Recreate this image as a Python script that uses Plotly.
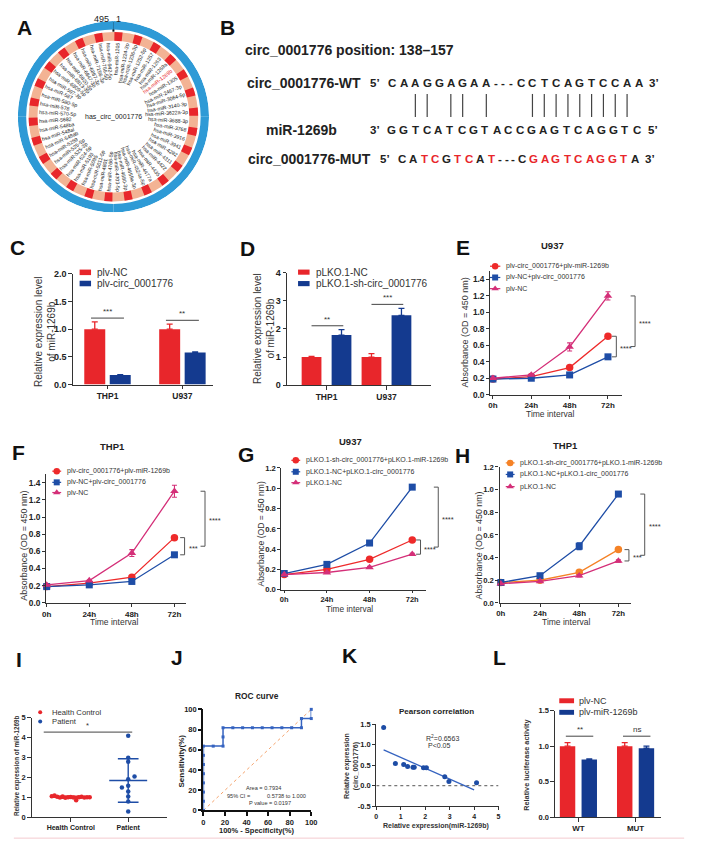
import numpy as np
import plotly.graph_objects as go

W, H = 701, 855
FONT = "Liberation Sans, Arial, Helvetica, sans-serif"
RED = "#E8262B"
NAVY = "#143A8F"
L_RED = "#EE2A2A"
L_BLUE = "#1E4DA6"
L_PINK = "#D42F78"
L_ORANGE = "#F58226"
PEACH = "#F3B394"
RING_BLUE = "#2E9AD6"
AXC = "#333333"

# ===================== DATA =====================
# Panel A
mirna_labels = [
    "hsa-miR-1205", "hsa-miR-1224-3p", "hsa-miR-1236-3p", "hsa-miR-1252-5p", "hsa-miR-1257",
    "hsa-miR-1263", "hsa-miR-1269a", "hsa-miR-1269b", "hsa-miR-1305", "hsa-miR-2467-3p",
    "hsa-miR-3064-5p", "hsa-miR-3140-3p", "hsa-miR-3622a-3p", "hsa-miR-3688-3p", "hsa-miR-3768",
    "hsa-miR-3916", "hsa-miR-3941", "hsa-miR-4282", "hsa-miR-4311", "hsa-miR-4422",
    "hsa-miR-4435", "hsa-miR-4477a", "hsa-miR-4524a-5p", "hsa-miR-4659a-3p", "hsa-miR-4680-3p",
    "hsa-miR-4703-5p", "hsa-miR-4766-5p", "hsa-miR-4801", "hsa-miR-5011-5p", "hsa-miR-5095",
    "hsa-miR-5193", "hsa-miR-524-5p", "hsa-miR-525-3p", "hsa-miR-525-5p", "hsa-miR-5259",
    "hsa-miR-548ab", "hsa-miR-548al", "hsa-miR-548ba", "hsa-miR-5682", "hsa-miR-570-5p",
    "hsa-miR-578", "hsa-miR-580-5p", "hsa-miR-587", "hsa-miR-597-3p", "hsa-miR-6809-5p",
    "hsa-miR-6813-3p", "hsa-miR-6820-3p", "hsa-miR-6847-3p", "hsa-miR-6867-3p", "hsa-miR-7156-3p",
    "hsa-miR-766-5p", "hsa-miR-942-5p",
]
highlight_mirna = "hsa-miR-1269b"
circ_name = "has_circ_0001776"
circ_ends = ["495", "1"]

# Panel B
b_title = "circ_0001776 position: 138–157"
wt_name, mir_name, mut_name = "circ_0001776-WT", "miR-1269b", "circ_0001776-MUT"
wt_seq = "CAAGGAGAA---CCTCAGTCCAA"
mir_seq = "GGTCATCGTACCGAGTCAGGTC"
mut_seq = "CATCGTCAT---CGAGTCAGGTA"
pair_idx = [2, 3, 5, 6, 8, 13, 14, 15, 16, 17, 18, 19, 20, 21]

# Panel C
cells = ["THP1", "U937"]
c_names = ["plv-NC", "plv-circ_0001776"]
c_nc = [1.00, 1.00]
c_nc_err = [0.13, 0.09]
c_oe = [0.17, 0.58]
c_oe_err = [0.01, 0.01]
c_sig = ["***", "**"]

# Panel D
d_names = ["pLKO.1-NC", "pLKO.1-sh-circ_0001776"]
d_nc = [1.00, 1.00]
d_nc_err = [0.02, 0.12]
d_sh = [1.78, 2.48]
d_sh_err = [0.19, 0.25]
d_sig = ["**", "***"]

times = ["0h", "24h", "48h", "72h"]

# Panel E (U937)
e_names = ["plv-circ_0001776+plv-miR-1269b", "plv-NC+plv-circ_0001776", "plv-NC"]
e_s1 = [0.19, 0.22, 0.33, 0.71]
e_s2 = [0.19, 0.20, 0.24, 0.46]
e_s3 = [0.20, 0.24, 0.58, 1.20]
e_s3_err = [0.00, 0.01, 0.05, 0.05]
e_sig = ["****", "****"]

# Panel F (THP1)
f_names = ["plv-circ_0001776+plv-miR-1269b", "plv-NC+plv-circ_0001776", "plv-NC"]
f_s1 = [0.19, 0.23, 0.30, 0.76]
f_s2 = [0.19, 0.21, 0.25, 0.56]
f_s3 = [0.21, 0.26, 0.58, 1.30]
f_s3_err = [0.00, 0.01, 0.04, 0.07]
f_sig = ["***", "****"]

# Panel G (U937)
g_names = ["pLKO.1-sh-circ_0001776+pLKO.1-miR-1269b", "pLKO.1-NC+pLKO.1-circ_0001776", "pLKO.1-NC"]
g_s1 = [0.15, 0.20, 0.30, 0.49]
g_s2 = [0.16, 0.25, 0.46, 1.01]
g_s3 = [0.15, 0.17, 0.22, 0.35]
g_s2_err = [0.00, 0.01, 0.01, 0.01]
g_sig = ["****", "****"]

# Panel H (THP1)
h_names = ["pLKO.1-sh-circ_0001776+pLKO.1-miR-1269b", "pLKO.1-NC+pLKO.1-circ_0001776", "pLKO.1-NC"]
h_s1 = [0.18, 0.20, 0.27, 0.47]
h_s2 = [0.18, 0.24, 0.50, 0.96]
h_s3 = [0.17, 0.19, 0.24, 0.37]
h_s2_err = [0.00, 0.01, 0.03, 0.02]
h_sig = ["***", "****"]

# Panel I
i_groups = ["Health Control", "Patient"]
hc_vals = [1.05, 1.08, 1.02, 0.99, 1.03, 0.97, 1.00, 1.01, 0.98, 0.84, 1.00, 1.02, 0.98, 1.00, 1.00]
pt_vals = [4.09, 2.98, 2.78, 1.90, 2.04, 1.57, 1.49, 1.29, 1.04, 0.78, 0.28]
i_sig = "*"

# Panel J (ROC)
roc_fpr = [0, 0, 0, 0, 0, 0, 0, 0, 9.09, 18.18, 18.18, 18.18, 27.27, 36.36, 45.45, 54.55,
           63.64, 72.73, 81.82, 90.91, 90.91, 100, 100]
roc_tpr = [0, 9.09, 18.18, 27.27, 36.36, 45.45, 54.55, 63.64, 63.64, 63.64, 72.73, 81.82, 81.82,
           81.82, 81.82, 81.82, 81.82, 81.82, 81.82, 81.82, 90.91, 90.91, 100]
roc_area = "0.7934"
roc_ci = "0.5738 to 1.000"
roc_p = "0.0197"

# Panel K
k_x = [0.30, 0.78, 1.12, 1.28, 1.50, 1.55, 1.93, 2.05, 2.80, 2.97, 4.10]
k_y = [1.42, 0.54, 0.52, 0.47, 0.45, 0.45, 0.44, 0.44, 0.22, 0.10, 0.07]
k_r2 = "0.6563"

# Panel L
l_cats = ["WT", "MUT"]
l_names = ["plv-NC", "plv-miR-1269b"]
l_nc = [1.00, 1.00]
l_nc_err = [0.05, 0.05]
l_mir = [0.81, 0.97]
l_mir_err = [0.01, 0.03]
l_sig = ["**", "ns"]

# ===================== HELPERS =====================
fig = go.Figure()
shapes, annots = [], []
layout = {}
PAN = {}


def T(x, y, s, size, color="#222", bold=False, xa="center", ya="middle", angle=0):
    annots.append(dict(x=x / W, y=1 - y / H, xref="paper", yref="paper", text=s,
                       showarrow=False, xanchor=xa, yanchor=ya, textangle=angle, borderpad=0,
                       font=dict(size=size, color=color, family=FONT, weight=700 if bold else 400)))


def ov_line(xs, ys, color, width=1.0, dash="solid"):
    fig.add_scatter(x=xs, y=ys, mode="lines", line=dict(color=color, width=width, dash=dash),
                    xaxis="x11", yaxis="y11", hoverinfo="skip", cliponaxis=False)


def ov_marker(x, y, color, symbol, size):
    fig.add_scatter(x=[x], y=[y], mode="markers",
                    marker=dict(color=color, symbol=symbol, size=size, line=dict(width=0)),
                    xaxis="x11", yaxis="y11", hoverinfo="skip", cliponaxis=False)


def rect(x0, y0, x1, y1, color):
    shapes.append(dict(type="rect", xref="paper", yref="paper", x0=x0 / W, x1=x1 / W,
                       y0=1 - y1 / H, y1=1 - y0 / H, fillcolor=color, line=dict(width=0),
                       layer="above"))


def sfx(n):
    return "" if n == 1 else str(n)


def axes(n, xpx, ypx, xr, yr, xticks, yticks, xfont=8.5, yfont=8.5, lw=1.2, lc=AXC, tl=3.5):
    PAN[n] = (xpx, ypx, xr, yr)
    s = sfx(n)
    base = dict(showgrid=False, zeroline=False, showline=True, linecolor=lc, linewidth=lw,
                ticks="outside", ticklen=tl, tickwidth=lw, tickcolor=lc, fixedrange=True,
                tickmode="array")
    layout["xaxis" + s] = dict(base, domain=[xpx[0] / W, xpx[1] / W], range=list(xr),
                               anchor="y" + s, tickvals=xticks[0], ticktext=xticks[1],
                               tickfont=dict(size=xfont, family=FONT, weight=700, color="#222"))
    layout["yaxis" + s] = dict(base, domain=[1 - ypx[1] / H, 1 - ypx[0] / H], range=list(yr),
                               anchor="x" + s, tickvals=yticks[0], ticktext=yticks[1],
                               tickfont=dict(size=yfont, family=FONT, weight=700, color="#222"))


def to_px(n, xv, yv):
    (x0, x1), (y0, y1), (a0, a1), (b0, b1) = PAN[n]
    return x0 + (xv - a0) / (a1 - a0) * (x1 - x0), y1 - (yv - b0) / (b1 - b0) * (y1 - y0)


def fmt(vals, d):
    return [f"{v:.{d}f}" for v in vals]


def bars(n, series, errs, cols, off, wid):
    s = sfx(n)
    for vals, err, col, o in zip(series, errs, cols, off):
        fig.add_bar(x=[i + o for i in range(len(vals))], y=vals, width=wid,
                    marker=dict(color=col, line=dict(width=0)),
                    error_y=dict(type="data", array=err, arrayminus=[0] * len(vals),
                                 symmetric=False, color=col, thickness=1.3, width=3),
                    xaxis="x" + s, yaxis="y" + s, hoverinfo="skip")


def sig_lines(n, a, ea, b, eb, off, gap, sigs, fs=8):
    for i in range(len(a)):
        top = max(a[i] + ea[i], b[i] + eb[i]) + gap
        xl, yl = to_px(n, i + off[0], top)
        xr_, _ = to_px(n, i + off[1], top)
        ov_line([xl, xr_], [yl, yl], "#444", 1.0)
        T((xl + xr_) / 2, yl - 1, sigs[i], fs, color="#333", ya="bottom")


def curves(n, series, errs, cols, syms, sizes):
    s = sfx(n)
    for vals, err, col, sy, sz in zip(series, errs, cols, syms, sizes):
        fig.add_scatter(x=list(range(len(vals))), y=vals, mode="lines+markers",
                        line=dict(color=col, width=1.3),
                        marker=dict(color=col, symbol=sy, size=sz, line=dict(width=0)),
                        error_y=dict(type="data", array=err, color=col, thickness=1.1, width=2.5),
                        xaxis="x" + s, yaxis="y" + s, cliponaxis=False, hoverinfo="skip")


def brackets(n, series, sig, dx_in, dx_out, tick=4.5):
    last = sorted(v[-1] for v in series)
    lo, mid, hi = last
    xl, _ = to_px(n, 3, 0)
    _, y_lo = to_px(n, 3, lo)
    _, y_mid = to_px(n, 3, mid)
    _, y_hi = to_px(n, 3, hi)
    xi = xl + dx_in
    ov_line([xi - tick, xi, xi, xi - tick], [y_mid, y_mid, y_lo, y_lo], "#555", 1.0)
    yc = (y_mid + y_lo) / 2
    T(xi + 3, yc + 2, sig[0], 7.5, color="#333", xa="left")
    xo = xl + dx_out
    ov_line([xo - tick, xo, xo, xo - tick], [y_hi, y_hi, yc, yc], "#555", 1.0)
    T(xo + 3, (y_hi + yc) / 2 + 2, sig[1], 7.5, color="#333", xa="left")


def curve_legend(xl0, xl1, xt, ys, names, cols, syms, sizes):
    for y, nm, c, sy, sz in zip(ys, names, cols, syms, sizes):
        ov_line([xl0, xl1], [y, y], c, 1.2)
        ov_marker((xl0 + xl1) / 2, y, c, sy, sz)
        T(xt, y, nm, 7, color="#333", xa="left")


AW = {c: 0.556 for c in "0123456789"}
AW.update({"h": .556, "s": .5, "a": .556, "-": .333, "m": .833, "i": .222, "R": .722, "p": .556,
           "b": .556, "l": .222, "c": .5, "e": .556, "_": .556, "r": .333})


def tw(s, size):
    return sum(AW.get(ch, 0.56) for ch in s) * size


# overlay pixel axis
layout["xaxis11"] = dict(domain=[0, 1], range=[0, W], visible=False, fixedrange=True, anchor="y11")
layout["yaxis11"] = dict(domain=[0, 1], range=[H, 0], visible=False, fixedrange=True, anchor="x11")

# ===================== PANEL A =====================
cx, cy, R_OUT = 111, 113, 97
fig.add_barpolar(theta=[45, 135, 225, 315], r=[8.5] * 4, base=[88.5] * 4, width=[90] * 4,
                 marker=dict(color=RING_BLUE, line=dict(width=0)), subplot="polar", hoverinfo="skip")
nlab = len(mirna_labels)
step = 360 / nlab
thetas = [(i + 0.5) * step for i in range(nlab)]
fig.add_barpolar(theta=[180], r=[9], base=[77], width=[360],
                 marker=dict(color=PEACH, line=dict(width=0)), subplot="polar", hoverinfo="skip")
fig.add_barpolar(theta=thetas[::2], r=[9] * len(thetas[::2]), base=[77] * len(thetas[::2]),
                 width=[step * 0.8] * len(thetas[::2]),
                 marker=dict(color=RED, line=dict(width=0)), subplot="polar", hoverinfo="skip")
layout["polar"] = dict(domain=dict(x=[(cx - R_OUT) / W, (cx + R_OUT) / W],
                                   y=[1 - (cy + R_OUT) / H, 1 - (cy - R_OUT) / H]),
                       bgcolor="rgba(0,0,0,0)",
                       radialaxis=dict(range=[0, R_OUT], visible=False),
                       angularaxis=dict(visible=False, rotation=90, direction="clockwise"))
FS_A = 5.2
R_LABEL = 75.5
for lab, th in zip(mirna_labels, thetas):
    rc = R_LABEL - tw(lab, FS_A) / 2
    t = np.radians(th)
    ang = th - 90 if th < 180 else th - 270
    T(cx + rc * np.sin(t), cy - rc * np.cos(t), lab, FS_A,
      color=RED if lab == highlight_mirna else "#222", angle=ang)
T(cx, cy, circ_name, 7, color="#222")
ov_line([cx, cx], [17, 27], "#111", 2)
T(cx - 12, 14, circ_ends[0], 9, color="#222")
T(cx + 5, 14, circ_ends[1], 9, color="#222")

# ===================== PANEL B =====================
T(243, 46, b_title, 14, bold=True, xa="left")
T(245.7, 79.3, wt_name, 14, bold=True, xa="left")
T(265, 126, mir_name, 14, bold=True, xa="left")
T(246.7, 156, mut_name, 14, bold=True, xa="left")


def seq_pos(seq, x0, sl, sd):
    xs, x, prev = [], x0, None
    for ch in seq:
        if prev is not None:
            x += ((sd if prev == "-" else sl) + (sd if ch == "-" else sl)) / 2
        xs.append(x)
        prev = ch
    return xs


wt_x = seq_pos(wt_seq, 393.3, 12.0, 7.6)
mir_x = seq_pos(mir_seq, 393.3, 11.83, 11.83)
mut_x = seq_pos(mut_seq, 403.3, 11.4, 6.6)
FS_B = 11.5
for seq, xs, y in [(wt_seq, wt_x, 79.3), (mir_seq, mir_x, 126)]:
    for ch, x in zip(seq, xs):
        T(x, y, ch, FS_B, bold=True, color="#222")
for i, (ch, x) in enumerate(zip(mut_seq, mut_x)):
    T(x, 156, ch, FS_B, bold=True, color=RED if ch != wt_seq[i] else "#222")
T(wt_x[0] - 16.6, 79.3, "5’", FS_B, bold=True)
T(wt_x[-1] + 15, 79.3, "3’", FS_B, bold=True)
T(mir_x[0] - 16.6, 126, "3’", FS_B, bold=True)
T(mir_x[-1] + 16.6, 126, "5’", FS_B, bold=True)
T(mut_x[0] - 16.6, 156, "5’", FS_B, bold=True)
T(mut_x[-1] + 15.4, 156, "3’", FS_B, bold=True)
px_pairs, py_pairs = [], []
for i in pair_idx:
    px_pairs += [wt_x[i], wt_x[i], None]
    py_pairs += [90, 113.3, None]
ov_line(px_pairs, py_pairs, "#444", 1.2)

# ===================== PANEL C =====================
axes(1, (70, 212), (272, 384), (-0.4605, 1.408), (0, 2), ([0, 1], cells),
     ([0, 0.5, 1, 1.5, 2], fmt([0, 0.5, 1, 1.5, 2], 1)), xfont=8.5, yfont=9)
bars(1, [c_nc, c_oe], [c_nc_err, c_oe_err], [RED, NAVY], [-0.17, 0.17], 0.28)
sig_lines(1, c_nc, c_nc_err, c_oe, c_oe_err, (-0.22, 0.22), 0.07, c_sig)
T(41.5, 330, "Relative expression level<br>of miR-1269b", 10, color="#333", angle=-90)
rect(76.7, 267.7, 88.3, 273.3, RED)
rect(76.7, 279, 88.3, 284.6, NAVY)
T(93, 270.5, c_names[0], 10, color="#333", xa="left")
T(93, 281.8, c_names[1], 10, color="#333", xa="left")

# ===================== PANEL D =====================
axes(2, (287.3, 433), (270.7, 384.7), (-0.656, 1.740), (0, 4), ([0, 1], cells),
     ([0, 1, 2, 3, 4], fmt([0, 1, 2, 3, 4], 0)), xfont=8.5, yfont=9)
bars(2, [d_nc, d_sh], [d_nc_err, d_sh_err], [RED, NAVY], [-0.25, 0.25], 0.33)
sig_lines(2, d_nc, d_nc_err, d_sh, d_sh_err, (-0.25, 0.28), 0.14, d_sig)
T(263.5, 327, "Relative expression level<br>of miR-1269b", 10, color="#333", angle=-90)
rect(298.3, 267.7, 310, 272.9, RED)
rect(298.3, 279.3, 310, 284.5, NAVY)
T(315, 270.3, d_names[0], 10, color="#333", xa="left")
T(315, 281.9, d_names[1], 10, color="#333", xa="left")

# ===================== PANELS E-H =====================
ytE = [0, 0.2, 0.4, 0.6, 0.8, 1.0, 1.2, 1.4]
ytG = [0, 0.2, 0.4, 0.6, 0.8, 1.0, 1.2]
SY = ["circle", "square", "triangle-up"]
SZ = [7.5, 7, 7.5]
SZL = [6.5, 6, 6.5]
zeros = [0, 0, 0.01, 0.01]

axes(3, (493.3, 626.7), (269.4, 394.3), (-0.07, 3.36), (0, 1.5), ([0, 1, 2, 3], times),
     (ytE, fmt(ytE, 1)), xfont=8, yfont=8.3, tl=3)
curves(3, [e_s1, e_s2, e_s3], [zeros, zeros, e_s3_err], [L_RED, L_BLUE, L_PINK], SY, SZ)
brackets(3, [e_s1, e_s2, e_s3], e_sig, 8.5, 27.5)
T(556.7, 243.3, "U937", 9.5, bold=True)
T(467.3, 331.7, "Absorbance (OD = 450 nm)", 9, color="#333", angle=-90)
T(554.3, 413.5, "Time interval", 8.5, color="#333")
curve_legend(493, 503.5, 508.3, [264.3, 275.7, 287], e_names, [L_RED, L_BLUE, L_PINK], SY, SZL)

axes(4, (42.7, 185), (474.6, 605), (-0.014, 3.28), (0, 1.5), ([0, 1, 2, 3], times),
     (ytE, fmt(ytE, 1)), xfont=8, yfont=8.3, tl=3)
curves(4, [f_s1, f_s2, f_s3], [zeros, zeros, f_s3_err], [L_RED, L_BLUE, L_PINK], SY, SZ)
brackets(4, [f_s1, f_s2, f_s3], f_sig, 10.3, 31)
T(110, 447, "THP1", 9.5, bold=True)
T(20.7, 546.7, "Absorbance (OD = 450 nm)", 9, color="#333", angle=-90)
T(111.7, 624, "Time interval", 8.5, color="#333")
curve_legend(49, 58, 63.3, [471.7, 483, 493.3], f_names, [L_RED, L_BLUE, L_PINK], SY, SZL)

axes(5, (281, 428), (468.3, 591.7), (-0.076, 3.32), (0, 1.2), ([0, 1, 2, 3], times),
     (ytG, fmt(ytG, 1)), xfont=7.5, yfont=7.7, tl=2.5)
curves(5, [g_s1, g_s2, g_s3], [zeros, g_s2_err, zeros], [L_RED, L_BLUE, L_PINK], SY, SZ)
brackets(5, [g_s1, g_s2, g_s3], g_sig, 8.4, 26.4)
T(351.7, 441.7, "U937", 9.5, bold=True)
T(260.5, 535, "Absorbance (OD = 450 nm)", 8.6, color="#333", angle=-90)
T(350, 611, "Time interval", 8.3, color="#333")
curve_legend(291.5, 300.5, 305, [460.7, 472.3, 483.3], g_names, [L_RED, L_BLUE, L_PINK], SY, SZL)

axes(6, (502.7, 636), (467.3, 605), (-0.033, 3.32), (0, 1.2), ([0, 1, 2, 3], times),
     (ytG, fmt(ytG, 1)), xfont=7.8, yfont=7.7, tl=3)
curves(6, [h_s1, h_s2, h_s3], [zeros, h_s2_err, zeros], [L_ORANGE, L_BLUE, L_PINK], SY, SZ)
brackets(6, [h_s1, h_s2, h_s3], h_sig, 10.7, 26.7)
T(570, 446, "THP1", 9.5, bold=True)
T(482, 546.7, "Absorbance (OD = 450 nm)", 8.8, color="#333", angle=-90)
T(570, 624.5, "Time interval", 8.5, color="#333")
curve_legend(509, 518, 522.7, [463.3, 475, 487.3], h_names, [L_ORANGE, L_BLUE, L_PINK], SY, SZL)

# ===================== PANEL I =====================
axes(7, (28.3, 165), (721, 821.7), (-0.676, 1.669), (0, 5), ([0, 1], i_groups),
     ([0, 1, 2, 3, 4, 5], fmt([0, 1, 2, 3, 4, 5], 0)), xfont=7, yfont=7.5)


def swarm(vals, d, thr):
    offs, sign = [], 1
    for k, v in enumerate(vals):
        o = 0.0
        if any(abs(v - vals[j]) < thr and offs[j] == 0 for j in range(k)):
            o = d * sign
            sign = -sign
        offs.append(o)
    return offs


hc_x = list(np.linspace(-0.33, 0.33, len(hc_vals)))
pt_x = [1 + o for o in swarm(pt_vals, 0.11, 0.16)]
for idx, xs, vals, col in [(0, hc_x, hc_vals, RED), (1, pt_x, pt_vals, L_BLUE)]:
    m = float(np.mean(vals))
    s = float(np.std(vals, ddof=1))
    fig.add_scatter(x=xs, y=vals, mode="markers", marker=dict(color=col, size=4.5),
                    xaxis="x7", yaxis="y7", hoverinfo="skip", cliponaxis=False)
    fig.add_scatter(x=[idx - 0.33, idx + 0.33, None, idx - 0.18, idx + 0.18, None, idx, idx, None,
                       idx - 0.18, idx + 0.18],
                    y=[m, m, None, m + s, m + s, None, m + s, m - s, None, m - s, m - s],
                    mode="lines", line=dict(color=col, width=1.4),
                    xaxis="x7", yaxis="y7", hoverinfo="skip")
top_i = max(pt_vals) + 0.18
xa_, ya_ = to_px(7, -0.47, top_i)
xb_, _ = to_px(7, 1.07, top_i)
ov_line([xa_, xb_], [ya_, ya_], "#444", 1.0)
T((xa_ + xb_) / 2, ya_ - 1, i_sig, 7.5, color="#333", ya="bottom")
T(13.3, 770, "Relative expression of miR-1269b", 6.3, bold=True, color="#333", angle=-90)
ov_marker(36.7, 715.7, RED, "circle", 4)
ov_marker(36.7, 725, L_BLUE, "circle", 4)
T(48, 715.7, i_groups[0], 7.7, color="#333", xa="left")
T(48, 725, i_groups[1], 7.7, color="#333", xa="left")

# ===================== PANEL J =====================
jt = [0, 20, 40, 60, 80, 100]
axes(8, (202.3, 311.7), (712.7, 815), (0, 100), (0, 100), (jt, [str(v) for v in jt]),
     (jt, [str(v) for v in jt]), xfont=7.5, yfont=7.5, lw=1.5, lc="#111")
fig.add_scatter(x=[0, 100], y=[0, 100], mode="lines", line=dict(color="#F4A36C", width=1, dash="dot"),
                xaxis="x8", yaxis="y8", hoverinfo="skip")
fig.add_scatter(x=roc_fpr, y=roc_tpr, mode="lines+markers", line=dict(color="#3563C0", width=1.5),
                marker=dict(symbol="square", size=3, color="#3563C0"),
                xaxis="x8", yaxis="y8", cliponaxis=False, hoverinfo="skip")
T(256.7, 699.3, "ROC curve", 8.4, bold=True)
T(180, 765, "Sensitivity(%)", 8, bold=True, color="#222", angle=-90)
T(256.7, 835.7, "100% - Specificity(%)", 7.5, bold=True, color="#222")
T(263.3, 792.7, "Area = " + roc_area, 5.6, color="#333")
T(238, 800, "95% CI =", 5.6, color="#333")
T(286.7, 800, roc_ci, 5.6, color="#333")
T(270, 807.3, "P value = " + roc_p, 5.6, color="#333")

# ===================== PANEL K =====================
kx_t = [0, 1, 2, 3, 4, 5]
ky_t = [-0.5, 0, 0.5, 1.0, 1.5]
axes(9, (377.7, 501.7), (727.7, 810.7), (0, 5), (-0.5, 1.5), (kx_t, [str(v) for v in kx_t]),
     (ky_t, fmt(ky_t, 1)), xfont=7, yfont=7.5, lw=1.1, tl=3)
fig.add_scatter(x=[0, 5], y=[0, 0], mode="lines", line=dict(color="#555", width=1, dash="dot"),
                xaxis="x9", yaxis="y9", hoverinfo="skip")
slope, icpt = np.polyfit(k_x, k_y, 1)
fx = [min(k_x), max(k_x) - 0.1]
fig.add_scatter(x=fx, y=[slope * v + icpt for v in fx], mode="lines",
                line=dict(color="#3563C0", width=1.3), xaxis="x9", yaxis="y9", hoverinfo="skip")
fig.add_scatter(x=k_x, y=k_y, mode="markers", marker=dict(color="#1D4CA5", size=5),
                xaxis="x9", yaxis="y9", hoverinfo="skip", cliponaxis=False)
T(438.7, 715, "Pearson correlation", 8, bold=True)
T(353, 770, "Relative expression<br>(circ_0001776)", 7, bold=True, color="#333", angle=-90)
T(438.7, 831, "Relative expression(miR-1269b)", 7, bold=True, color="#333")
T(445, 741.7, "R<sup>2</sup>=" + k_r2, 7, color="#333")
T(441.5, 749.3, "P&lt;0.05", 7, color="#333")

# ===================== PANEL L =====================
lt = [0, 0.5, 1.0, 1.5]
axes(10, (559, 666.7), (714, 821.7), (-0.409, 1.448), (0, 1.5), ([0, 1], l_cats),
     (lt, fmt(lt, 1)), xfont=8, yfont=7.5)
bars(10, [l_nc, l_mir], [l_nc_err, l_mir_err], [RED, NAVY], [-0.19, 0.19], 0.27)
sig_lines(10, l_nc, l_nc_err, l_mir, l_mir_err, (-0.22, 0.26), 0.09, l_sig, fs=8)
T(530, 768.3, "Relative luciferase activity", 7.3, bold=True, color="#333", angle=-90)
rect(563.3, 701.5, 578.3, 706.5, RED)
rect(563.3, 713.2, 578.3, 718.2, NAVY)
T(582, 704, l_names[0], 9, color="#333", xa="left")
T(582, 715.7, l_names[1], 9, color="#333", xa="left")

# ===================== LETTERS & FOOTER =====================
for lt_, x_, y_ in [("A", 21, 23), ("B", 227, 23), ("C", 14, 245), ("D", 247, 246),
                    ("E", 466, 245), ("F", 15, 453), ("G", 245, 455), ("H", 465, 456),
                    ("I", 15, 662), ("J", 175, 660), ("K", 350, 658), ("L", 503, 660)]:
    T(x_, y_, lt_, 21, bold=True, color="#111")
shapes.append(dict(type="line", xref="paper", yref="paper", x0=10 / W, x1=690 / W,
                   y0=1 - 843 / H, y1=1 - 843 / H, line=dict(color="#F4CACF", width=1)))

layout.update(dict(width=W, height=H, margin=dict(l=0, r=0, t=0, b=0), paper_bgcolor="white",
                   plot_bgcolor="rgba(0,0,0,0)", showlegend=False, barmode="overlay",
                   font=dict(family=FONT, color="#222"), shapes=shapes, annotations=annots))
fig.update_layout(**layout)
fig.write_html("out.html")
